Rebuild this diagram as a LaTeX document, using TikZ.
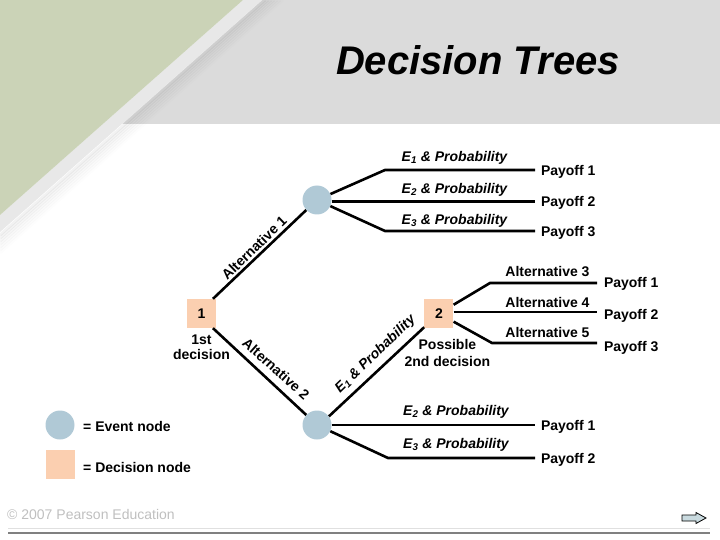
\documentclass[tikz,border=0pt]{standalone}
\usepackage{fontspec}
\setmainfont{Liberation Sans}
\usepackage{tikz}
\usetikzlibrary{shapes, positioning}
\definecolor{bandgray}{HTML}{DBDBDB}
\definecolor{leafgreen}{HTML}{CBD3B7}
\definecolor{stripegray}{HTML}{E8E8E8}
\definecolor{eventblue}{HTML}{B0C9D6}
\definecolor{decisionpeach}{HTML}{FBCFB0}
\definecolor{arrowblue}{HTML}{C9DADF}

\begin{document}
\begin{tikzpicture}[x=1pt,y=-1pt,auto,node distance=10pt,>=latex,font=\fontsize{14}{16}\selectfont\bfseries]
    \tikzstyle{event}=[circle,fill=eventblue,minimum size=29pt,inner sep=0pt]
    \tikzstyle{decision}=[rectangle,fill=decisionpeach,minimum size=29pt,inner sep=0pt]
    \tikzstyle{branch}=[line width=2.6pt,black]
    \tikzstyle{payoff}=[anchor=west,inner sep=0pt,outer sep=6pt,text height=10pt,text depth=0pt]
    \tikzstyle{prob}=[font=\fontsize{14}{16}\selectfont\bfseries\itshape,inner sep=0pt]
    \tikzstyle{caption}=[align=center,inner sep=0pt]

    \useasboundingbox (0,0) rectangle (720,540);

    % background
    \fill[bandgray] (262,0) -- (720,0) -- (720,124) -- (122,124) -- cycle;
    \begin{scope}
        \clip (262,0) -- (720,0) -- (720,540) -- (0,540) -- (0,232) -- cycle;
        \foreach \i in {1,...,7}
            \draw[line width=3pt,black,opacity=0.007*(8-\i)] (262+3*\i,0) -- (0,232+3*\i);
    \end{scope}
    \fill[stripegray] (243,0) -- (262,0) -- (0,232) -- (0,215) -- cycle;
    \fill[leafgreen] (0,0) -- (243,0) -- (0,215) -- cycle;
    \node[font=\fontsize{40}{44}\selectfont\bfseries\itshape] (title) at (478,60) {Decision Trees};

    % nodes
    \node[decision] (dec1) at (201.5,313.5) {1};
    \node[decision,right=208pt of dec1] (dec2) {2};
    \node[event] (evt1) at (317,200) {};
    \node[event] (evt2) at (317,425) {};
    \node[caption,below=6pt of dec1] (cap1) {1st\\[-0.5pt]decision};
    \node[caption,below=11pt of dec2,xshift=8.5pt] (cap2) {Possible\\[1pt]2nd decision};

    % ends of the branches
    \coordinate (k1) at (385,170);
    \coordinate (k2) at (385,231);
    \coordinate (k3) at (490,283);
    \coordinate (k4) at (492,343);
    \coordinate (k5) at (388,458);

    \node[payoff] (pay1) at (535,170.5) {Payoff 1};
    \node[payoff] (pay2) at (535,201.5) {Payoff 2};
    \node[payoff] (pay3) at (535,231.5) {Payoff 3};
    \node[payoff] (pay4) at (535,425) {Payoff 1};
    \node[payoff] (pay5) at (535,458) {Payoff 2};
    \coordinate (e1) at (597,283);
    \coordinate (e2) at (597,312);
    \coordinate (e3) at (597,343);
    \node[payoff,outer sep=0pt] (pay6) at (604,282) {Payoff 1};
    \node[payoff,outer sep=0pt] (pay7) at (604,314) {Payoff 2};
    \node[payoff,outer sep=0pt] (pay8) at (604,346) {Payoff 3};

    \draw[branch] (dec1.52) -- (evt1.-137);
    \draw[branch] (dec1.-52) -- (evt2.137);
    \draw[branch] (evt2.36) -- (dec2.-137);
    \draw[branch] (evt1) -- (k1) -- (k1 -| pay1.west);
    \draw[branch] (evt1.east |- pay2.west) -- (pay2.west);
    \draw[branch] (evt1) -- (k2) -- (k2 -| pay3.west);
    \draw[branch] (evt2) -- (pay4.west);
    \draw[branch] (evt2) -- (k5) -- (pay5.west);
    \draw[branch] (dec2) -- (k3) -- (e1);
    \draw[branch] (dec2.east |- e2) -- (e2);
    \draw[branch] (dec2) -- (k4) -- (e3);

    % labels on the branches
    \node[rotate=44,inner sep=0pt] (alt1) at (254,248) {Alternative 1};
    \node[rotate=-42,inner sep=0pt] (alt2) at (276,369) {Alternative 2};
    \node[prob,rotate=44] (ev1) at (375.5,354.5) {E\textsubscript{1} \& Probability};
    \node[prob] (ev2) at (454.5,158) {E\textsubscript{1} \& Probability};
    \node[prob] (ev3) at (454.5,190) {E\textsubscript{2} \& Probability};
    \node[prob] (ev4) at (454.5,221) {E\textsubscript{3} \& Probability};
    \node[prob] (ev5) at (456,412) {E\textsubscript{2} \& Probability};
    \node[prob] (ev6) at (456,445) {E\textsubscript{3} \& Probability};
    \node[inner sep=0pt] (alt3) at (547.5,272) {Alternative 3};
    \node[inner sep=0pt] (alt4) at (547.5,302) {Alternative 4};
    \node[inner sep=0pt] (alt5) at (547.5,332) {Alternative 5};

    % key
    \node[event] (keyevt) at (60,425) {};
    \node[decision,below=10pt of keyevt] (keydec) {};
    \node[anchor=west,inner sep=0pt] (keyevttxt) at (83,426) {= Event node};
    \node[anchor=west,inner sep=0pt] (keydectxt) at (83,467) {= Decision node};

    % footer
    \node[anchor=west,inner sep=0pt,text=black!25,font=\fontsize{14}{16}\selectfont] (copy) at (7,514) {© 2007 Pearson Education};
    \draw[black!12,line width=0.8pt] (8,528) -- (710,528);
    \draw[black!50,line width=2pt] (8,533) -- (710,533);
    \filldraw[fill=arrowblue,draw=black,line width=0.8pt] (682,515) -- (696,515) -- (696,512.5) -- (706,518) -- (696,523.5) -- (696,521) -- (682,521) -- cycle;
\end{tikzpicture}
\end{document}
